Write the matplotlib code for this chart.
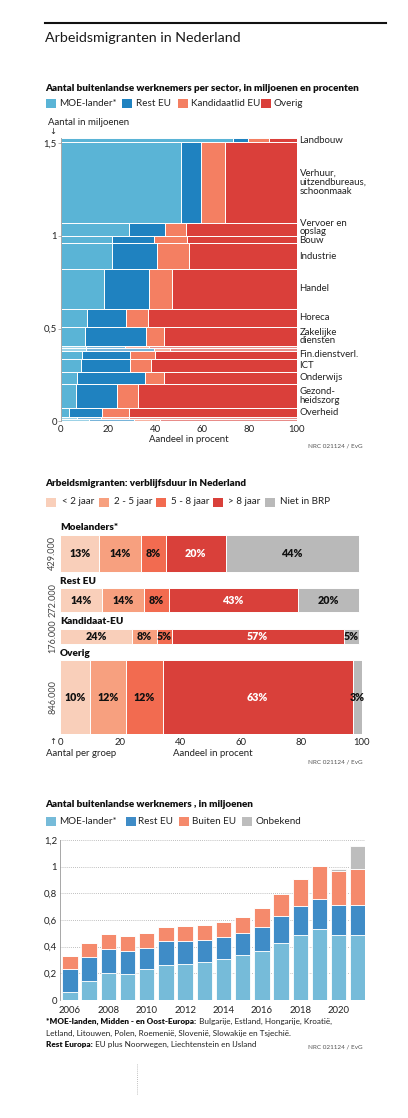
import matplotlib
matplotlib.use('Agg')
import matplotlib.pyplot as plt
from matplotlib.patches import Rectangle
from matplotlib.lines import Line2D
from matplotlib.colors import to_rgba
from matplotlib.text import Annotation
import numpy as np

W, H = 408, 1118
plt.rcParams['font.family'] = ['Lato', 'DejaVu Sans']
TXT = '#222222'
GRAY = '#555555'

# ---------------- Chart 1 data (bottom to top) ----------------
sector_names = ['', '', 'Overheid', 'Gezond-\nheidszorg', 'Onderwijs', 'ICT',
                'Fin.dienstverl.', '', '', 'Zakelijke\ndiensten', 'Horeca', 'Handel',
                'Industrie', 'Bouw', 'Vervoer en\nopslag',
                'Verhuur,\nuitzendbureaus,\nschoonmaak', 'Landbouw']
sector_size = [0.012, 0.012, 0.049, 0.128, 0.066, 0.070, 0.043, 0.016, 0.012,
               0.102, 0.098, 0.211, 0.143, 0.037, 0.071, 0.437, 0.018]
share_moe = [12, 7, 3.5, 6.2, 6.6, 8.3, 8.7, 10.5, 10.5, 10.3, 10.9, 18.4, 21.5, 21.8, 28.7, 50.8, 73.1]
share_rest = [19, 10, 13.8, 17.4, 29.2, 21.1, 20.7, 29.0, 16.5, 25.9, 16.5, 18.9, 19.2, 17.5, 15.4, 8.7, 6.4]
share_kand = [11, 12, 11.4, 8.9, 7.8, 8.6, 10.3, 6.7, 10.5, 7.6, 9.4, 9.9, 13.5, 14.0, 8.8, 9.9, 8.6]
share_overig = [58, 71, 71.3, 67.5, 56.4, 62.0, 60.3, 53.8, 62.5, 56.2, 63.2, 52.8, 45.8, 46.7, 47.1, 30.6, 11.9]
c1_legend = ['MOE-lander*', 'Rest EU', 'Kandidaatlid EU', 'Overig']
c1_yticks = [0, 0.5, 1, 1.5]
c1_yticklabels = ['0', '0,5', '1', '1,5']
c1_xticks = [0, 20, 40, 60, 80, 100]

# ---------------- Chart 2 data ----------------
groups = ['Moelanders*', 'Rest EU', 'Kandidaat-EU', 'Overig']
group_size = [429, 272, 176, 846]          # x 1000
group_size_labels = ['429.000', '272.000', '176.000', '846.000']
dur_lt2 = [13, 14, 24, 10]
dur_2_5 = [14, 14, 8, 12]
dur_5_8 = [8, 8, 5, 12]
dur_gt8 = [20, 43, 57, 63]
dur_nobrp = [44, 20, 5, 3]
c2_legend = ['< 2 jaar', '2 - 5 jaar', '5 - 8 jaar', '> 8 jaar', 'Niet in BRP']

# ---------------- Chart 3 data ----------------
years = list(range(2006, 2022))
w_moe = [0.06, 0.14, 0.20, 0.195, 0.23, 0.265, 0.27, 0.285, 0.305, 0.335, 0.37, 0.43, 0.49, 0.53, 0.485, 0.485]
w_rest = [0.175, 0.185, 0.185, 0.175, 0.16, 0.175, 0.17, 0.165, 0.165, 0.165, 0.18, 0.20, 0.215, 0.23, 0.225, 0.225]
w_buiten = [0.095, 0.105, 0.11, 0.11, 0.11, 0.11, 0.115, 0.115, 0.115, 0.125, 0.14, 0.165, 0.205, 0.245, 0.26, 0.27]
w_onbekend = [0, 0, 0, 0, 0, 0, 0, 0, 0, 0, 0, 0, 0, 0, 0.01, 0.175]
c3_legend = ['MOE-lander*', 'Rest EU', 'Buiten EU', 'Onbekend']
c3_yticks = [0, 0.2, 0.4, 0.6, 0.8, 1.0, 1.2]
c3_yticklabels = ['0', '0,2', '0,4', '0,6', '0,8', '1', '1,2']

# label style tweaks (vertical nudges in axis units, line spacing)
label_nudge = {'Vervoer en\nopslag': 0.011, 'Bouw': -0.007}
label_linespacing = {'Vervoer en\nopslag': 0.8, 'Zakelijke\ndiensten': 0.85}

fig = plt.figure(figsize=(W / 100, H / 100), dpi=100)
fig.patch.set_facecolor('white')


def fx(x):
    return x / W


def fy(y):
    return 1 - y / H


def axes_px(x0, y0, x1, y1):
    return fig.add_axes([fx(x0), fy(y1), (x1 - x0) / W, (y1 - y0) / H])


def ftext(x, y, s, **kw):
    kw.setdefault('color', TXT)
    kw.setdefault('va', 'center')
    kw.setdefault('ha', 'left')
    return fig.text(fx(x), fy(y), s, **kw)


def legend(items, colors, xs_sq, xs_txt, y, size=7.1):
    for lab, col, xs, xt in zip(items, colors, xs_sq, xs_txt):
        fig.patches.append(Rectangle((fx(xs), fy(y + 4.5)), 10 / W, 9 / H,
                                     transform=fig.transFigure, color=col, lw=0))
        ftext(xt, y, lab, fontsize=size)


SUB = 7.1

# ---------- header ----------
fig.add_artist(Line2D([fx(45), fx(386)], [fy(22.5), fy(22.5)], color='#111111', lw=1.5,
                      transform=fig.transFigure))
ftext(45, 37.5, 'Arbeidsmigranten in Nederland', fontsize=10.3, color='#1a1a1a')

# ================= Chart 1 =================
C1 = ['#5ab4d6', '#1f82c0', '#f47f62', '#da3f3a']
ftext(45, 88.5, 'Aantal buitenlandse werknemers per sector, in miljoenen en procenten',
      fontsize=SUB, fontweight='heavy', color='#111111')
legend(c1_legend, C1, [46, 122, 178, 261], [59, 136, 191, 274], 103.5)
ftext(48, 122.5, 'Aantal in miljoenen', fontsize=6.9)
ftext(49, 131.5, '\u2193', fontsize=6, family=['DejaVu Sans'])

ax1 = axes_px(61, 138.4, 296.7, 421.3)
sizes = np.array(sector_size)
bottoms = np.concatenate([[0], np.cumsum(sizes)[:-1]])
left = np.zeros(len(sizes))
for shares, col in zip([share_moe, share_rest, share_kand, share_overig], C1):
    shares = np.array(shares)
    bars = ax1.bar(left, sizes, width=shares, bottom=bottoms, align='edge',
                   color=col, edgecolor='white', linewidth=0.7)
    for b, nm in zip(bars, sector_names):
        if nm == '':
            b.set_facecolor(to_rgba(col, 0.6))
    left = left + shares
ax1.set_xlim(0, 100)
ax1.set_ylim(0, sizes.sum())
for nm, b, s in zip(sector_names, bottoms, sizes):
    if nm:
        ax1.text(101.2, b + s / 2 + label_nudge.get(nm, 0), nm, fontsize=6.9, color=TXT,
                 va='center', ha='left', linespacing=label_linespacing.get(nm, 1.05),
                 clip_on=False)
ax1.set_yticks(c1_yticks)
ax1.set_yticklabels(c1_yticklabels)
ax1.set_xticks(c1_xticks)
for s in ['top', 'right', 'bottom']:
    ax1.spines[s].set_visible(False)
ax1.spines['left'].set_color('#999999')
ax1.spines['left'].set_linewidth(0.6)
ax1.tick_params(axis='y', length=2, width=0.5, color='#999999', labelsize=6.9,
                labelcolor=TXT, pad=1)
ax1.tick_params(axis='x', length=0, labelsize=6.9, labelcolor=TXT, pad=3)
ftext(149, 439, 'Aandeel in procent', fontsize=6.9)
ftext(363, 446, 'NRC 021124 / EvG', fontsize=4.6, ha='right', color=GRAY)

# ================= Chart 2 =================
C2 = ['#f9cfba', '#f7a07f', '#f26b50', '#d9403a', '#b9b9b9']
ftext(45, 483.5, 'Arbeidsmigranten: verblijfsduur in Nederland', fontsize=SUB,
      fontweight='heavy', color='#111111')
legend(c2_legend, C2, [46, 99, 156, 213, 265], [62, 114, 171, 228, 280], 502)

gap = 190
ax2 = axes_px(60, 534.5, 361.7, 734)
gsize = np.array(group_size)
ys = {}
cur = 0
for i in range(len(groups) - 1, -1, -1):
    ys[i] = cur
    cur += gsize[i] + gap
total = cur - gap
yb = np.array([ys[i] for i in range(len(groups))])
lefts = np.zeros(len(groups))
series = [dur_lt2, dur_2_5, dur_5_8, dur_gt8, dur_nobrp]
for k, (vals, col) in enumerate(zip(series, C2)):
    vals = np.array(vals)
    ax2.barh(yb, vals, height=gsize, left=lefts, align='edge', color=col,
             edgecolor='white', linewidth=0.7)
    for i, v in enumerate(vals):
        tc = 'white' if k == 3 else '#111111'
        ax2.text(lefts[i] + v / 2, yb[i] + gsize[i] / 2, f'{v}%', ha='center',
                 va='center', fontsize=7.7, fontweight='heavy', color=tc, clip_on=False)
    lefts = lefts + vals
for i, g in enumerate(groups):
    ax2.text(0, yb[i] + gsize[i] + 25, g, ha='left', va='bottom', fontsize=7.2,
             fontweight='heavy', color='#111111')
    ax2.text(-2.4, yb[i] + gsize[i] / 2, group_size_labels[i], rotation=90,
             ha='center', va='center', fontsize=6.6, color='#444444')
ax2.set_xlim(0, 100)
ax2.set_ylim(0, total)
ax2.set_yticks([])
ax2.set_xticks(c1_xticks)
for s in ['top', 'right', 'bottom', 'left']:
    ax2.spines[s].set_visible(False)
ax2.tick_params(axis='x', length=0, labelsize=6.9, labelcolor=TXT, pad=3)
ftext(49, 741, '\u2191', fontsize=6, family=['DejaVu Sans'])
ftext(46.5, 753.5, 'Aantal per groep', fontsize=6.9)
ftext(173, 753.5, 'Aandeel in procent', fontsize=6.9)
ftext(363, 762.5, 'NRC 021124 / EvG', fontsize=4.6, ha='right', color=GRAY)

# ================= Chart 3 =================
C3 = ['#76bbd9', '#3f8cc7', '#f58a6c', '#bdbdbd']
ftext(45, 804.5, 'Aantal buitenlandse werknemers , in miljoenen', fontsize=SUB,
      fontweight='heavy', color='#111111')
legend(c3_legend, C3, [46, 126, 179, 242], [59.5, 138.5, 192, 255], 821)

ax3 = axes_px(60, 840, 365, 1000)
yrs = np.array(years)
bot = np.zeros(len(yrs))
for vals, col in zip([w_moe, w_rest, w_buiten, w_onbekend], C3):
    vals = np.array(vals)
    ax3.bar(yrs, vals, width=0.8, bottom=bot, color=col, edgecolor='white',
            linewidth=0.6, zorder=3)
    bot = bot + vals
ax3.set_xlim(2005.48, 2021.37)
ax3.set_ylim(0, 1.2)
ax3.set_yticks(c3_yticks)
ax3.set_yticklabels(c3_yticklabels)
ax3.set_xticks(years[::2])
ax3.yaxis.grid(True, linestyle=(0, (1, 1.5)), color='#aaaaaa', linewidth=0.6, zorder=0)
for s in ['top', 'right', 'bottom']:
    ax3.spines[s].set_visible(False)
ax3.spines['left'].set_color('#999999')
ax3.spines['left'].set_linewidth(0.6)
ax3.tick_params(axis='y', length=0, labelsize=6.9, labelcolor=TXT, pad=2)
ax3.tick_params(axis='x', length=0, labelsize=6.9, labelcolor=TXT, pad=4)

# footnotes
FN = 5.9
t1 = ftext(46.5, 1021.5, '*MOE-landen, Midden - en Oost-Europa:', fontsize=FN,
           fontweight='heavy', color='#111111')
a1 = Annotation(' Bulgarije, Estland, Hongarije, Kroatië,', xy=(1, 0), xycoords=t1,
                fontsize=FN, color=TXT, va='bottom', ha='left')
fig.add_artist(a1)
ftext(46.5, 1033.5, 'Letland, Litouwen, Polen, Roemenië, Slovenië, Slowakije en Tsjechië.',
      fontsize=FN)
t3 = ftext(46.5, 1044.5, 'Rest Europa:', fontsize=FN, fontweight='heavy', color='#111111')
a3 = Annotation(' EU plus Noorwegen, Liechtenstein en IJsland', xy=(1, 0), xycoords=t3,
                fontsize=FN, color=TXT, va='bottom', ha='left')
fig.add_artist(a3)
ftext(363, 1047, 'NRC 021124 / EvG', fontsize=4.6, ha='right', color=GRAY)

fig.add_artist(Line2D([fx(137), fx(137)], [fy(1064), fy(1095)], color='#aaaaaa', lw=0.6,
                      linestyle=(0, (1, 1.5)), transform=fig.transFigure))

fig.savefig('out.png', dpi=100, facecolor='white')
